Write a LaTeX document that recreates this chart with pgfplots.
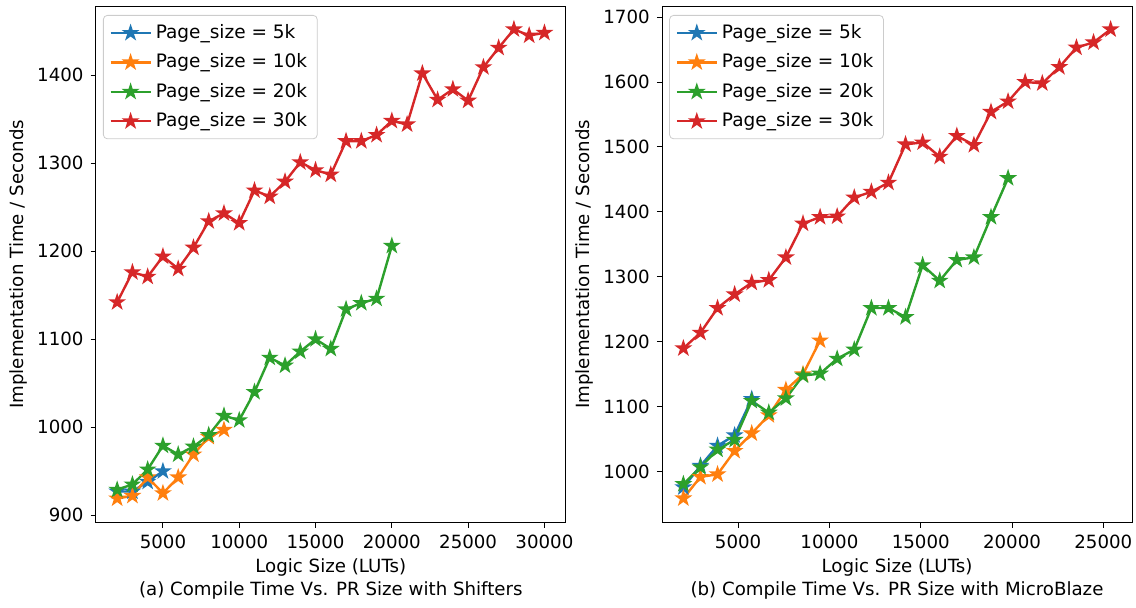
\documentclass[border=0pt]{standalone}
\usepackage{fontspec}
\setmainfont{DejaVu Sans}
\usepackage{pgfplots}
\pgfplotsset{compat=1.18}

\definecolor{c0}{HTML}{1F77B4}
\definecolor{c1}{HTML}{FF7F0E}
\definecolor{c2}{HTML}{2CA02C}
\definecolor{c3}{HTML}{D62728}

% filled five-pointed star
\pgfdeclareplotmark{fstar}{%
  \pgfpathmoveto{\pgfpointpolar{90}{\pgfplotmarksize}}%
  \pgfpathlineto{\pgfpointpolar{126}{0.382\pgfplotmarksize}}%
  \pgfpathlineto{\pgfpointpolar{162}{\pgfplotmarksize}}%
  \pgfpathlineto{\pgfpointpolar{198}{0.382\pgfplotmarksize}}%
  \pgfpathlineto{\pgfpointpolar{234}{\pgfplotmarksize}}%
  \pgfpathlineto{\pgfpointpolar{270}{0.382\pgfplotmarksize}}%
  \pgfpathlineto{\pgfpointpolar{306}{\pgfplotmarksize}}%
  \pgfpathlineto{\pgfpointpolar{342}{0.382\pgfplotmarksize}}%
  \pgfpathlineto{\pgfpointpolar{18}{\pgfplotmarksize}}%
  \pgfpathlineto{\pgfpointpolar{54}{0.382\pgfplotmarksize}}%
  \pgfpathclose
  \pgfusepathqfillstroke}

\pgfplotsset{
  panel/.style={
    scale only axis, width=235pt, height=258.35pt,
    font=\fontsize{9.1pt}{11pt}\selectfont,
    /pgf/number format/assume math mode=true,
    /pgf/number format/set thousands separator={},
    scaled x ticks=false,
    tick align=outside, xtick pos=bottom, ytick pos=left,
    major tick length=2.6pt,
    tick style={black, line width=0.45pt},
    axis line style={line width=0.45pt},
    xlabel={Logic Size (LUTs)},
    xlabel style={at={(axis description cs:0.5,-0.0857)}, anchor=center},
    ylabel={Implementation Time / Seconds},
    ylabel style={at={(axis description cs:-0.1655,0.5)}, anchor=center},
    every axis plot/.append style={line width=1.2pt, mark=fstar, mark size=2.75pt,
      mark options={solid, line width=0.4pt}},
    legend cell align=left,
    legend style={at={(0.0153,0.9826)}, anchor=north west, draw=black!20,
      rounded corners=2pt, fill=white, fill opacity=0.8, text opacity=1,
      inner xsep=3pt, inner ysep=2.5pt, row sep=2.2pt,
      font=\fontsize{9.25pt}{11pt}\selectfont},
    legend image code/.code={%
      \draw[mark repeat=2, mark phase=2] plot coordinates {(0pt,0pt) (10pt,0pt) (20pt,0pt)};},
  },
  s5/.style={color=c0, mark options={fill=c0, draw=c0}},
  s10/.style={color=c1, mark options={fill=c1, draw=c1}},
  s20/.style={color=c2, mark options={fill=c2, draw=c2}},
  s30/.style={color=c3, mark options={fill=c3, draw=c3}},
}

\begin{document}
\begin{tikzpicture}
\useasboundingbox (-47.9pt,-42.15pt) rectangle (520.1pt,261.35pt);

% (a) shifters
\begin{axis}[panel, name=L, at={(0pt,0pt)}, anchor=south west,
  xmin=600, xmax=31400, ymin=891.5, ymax=1478.5,
  xtick={5000,10000,15000,20000,25000,30000},
  ytick={900,1000,1100,1200,1300,1400}]
\addplot[s5] coordinates {(2000,927) (3000,927) (4000,938) (5000,950)};
\addlegendentry{Page\_size = 5k}
\addplot[s10] coordinates {(2000,919) (3000,922) (4000,943) (5000,925)
  (6000,943) (7000,969) (8000,989) (9000,997)};
\addlegendentry{Page\_size = 10k}
\addplot[s20] coordinates {(2000,929) (3000,935) (4000,952) (5000,979)
  (6000,969) (7000,978) (8000,991) (9000,1013) (10000,1008) (11000,1040)
  (12000,1079) (13000,1070) (14000,1086) (15000,1100) (16000,1089)
  (17000,1134) (18000,1141) (19000,1146) (20000,1206)};
\addlegendentry{Page\_size = 20k}
\addplot[s30] coordinates {(2000,1142) (3000,1176) (4000,1171) (5000,1194)
  (6000,1180) (7000,1204) (8000,1234) (9000,1243) (10000,1232) (11000,1269)
  (12000,1262) (13000,1279) (14000,1301) (15000,1292) (16000,1287)
  (17000,1325) (18000,1325) (19000,1332) (20000,1348) (21000,1344)
  (22000,1402) (23000,1372) (24000,1384) (25000,1371) (26000,1409)
  (27000,1431) (28000,1452) (29000,1445) (30000,1448)};
\addlegendentry{Page\_size = 30k}
\end{axis}
\node[font=\fontsize{9.1pt}{11pt}\selectfont] at ([yshift=-33.65pt]L.south)
  {(a) Compile Time Vs. PR Size with Shifters};

% (b) MicroBlaze
\begin{axis}[panel, name=R, at={(283.1pt,0pt)}, anchor=south west,
  xmin=830, xmax=26570, ymin=921.5, ymax=1717,
  xtick={5000,10000,15000,20000,25000},
  ytick={1000,1100,1200,1300,1400,1500,1600,1700}]
\addplot[s5] coordinates {(2000,976) (2936,1009) (3872,1040) (4808,1056)
  (5744,1112)};
\addlegendentry{Page\_size = 5k}
\addplot[s10] coordinates {(2000,959) (2936,992) (3872,996) (4808,1032)
  (5744,1059) (6680,1087) (7616,1126) (8552,1150) (9488,1202)};
\addlegendentry{Page\_size = 10k}
\addplot[s20] coordinates {(2000,981) (2936,1007) (3872,1034) (4808,1049)
  (5744,1109) (6680,1091) (7616,1113) (8552,1148) (9488,1151) (10424,1174)
  (11360,1188) (12296,1252) (13232,1252) (14168,1238) (15104,1318)
  (16040,1294) (16976,1326) (17912,1330) (18848,1392) (19784,1452)};
\addlegendentry{Page\_size = 20k}
\addplot[s30] coordinates {(2000,1190) (2936,1214) (3872,1252) (4808,1273)
  (5744,1291) (6680,1295) (7616,1330) (8552,1382) (9488,1392) (10424,1393)
  (11360,1422) (12296,1431) (13232,1445) (14168,1504) (15104,1507)
  (16040,1485) (16976,1517) (17912,1503) (18848,1554) (19784,1570)
  (20720,1600) (21656,1598) (22592,1623) (23528,1653) (24464,1661)
  (25400,1681)};
\addlegendentry{Page\_size = 30k}
\end{axis}
\node[font=\fontsize{9.1pt}{11pt}\selectfont] at ([yshift=-33.65pt]R.south)
  {(b) Compile Time Vs. PR Size with MicroBlaze};
\end{tikzpicture}
\end{document}
